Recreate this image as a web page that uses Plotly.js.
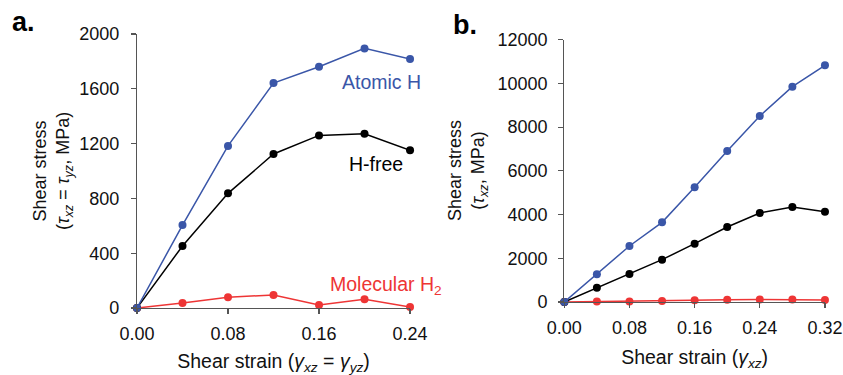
<!DOCTYPE html>
<html>
<head>
<meta charset="utf-8">
<script src="https://cdn.plot.ly/plotly-3.0.1.min.js"></script>
<style>html,body{margin:0;padding:0;background:#fff;}#chart{width:843px;height:375px;}</style>
</head>
<body>
<div id="chart"></div>
<script>
// Panel a data
var strainA = [0, 0.04, 0.08, 0.12, 0.16, 0.20, 0.24];
var atomicA = [0, 605, 1183, 1642, 1761, 1895, 1817];
var hfreeA = [0, 453, 837, 1124, 1260, 1272, 1151];
var molecA = [0, 36, 78, 95, 22, 63, 8];
var ticksXA = [0, 0.08, 0.16, 0.24];
var tickTextXA = ['0.00', '0.08', '0.16', '0.24'];
var ticksYA = [0, 400, 800, 1200, 1600, 2000];
// Panel b data
var strainB = [0, 0.04, 0.08, 0.12, 0.16, 0.20, 0.24, 0.28, 0.32];
var atomicB = [0, 1267, 2562, 3645, 5246, 6908, 8509, 9851, 10826];
var hfreeB = [0, 656, 1281, 1936, 2669, 3431, 4071, 4346, 4132];
var molecB = [0, 25, 25, 50, 85, 100, 115, 115, 95];
var ticksXB = [0, 0.08, 0.16, 0.24, 0.32];
var tickTextXB = ['0.00', '0.08', '0.16', '0.24', '0.32'];
var ticksYB = [0, 2000, 4000, 6000, 8000, 10000, 12000];
var tickTextYB = ['0', '2000', '4000', '6000', '8000', '10000', '12000'];

var blue = '#3a56a8', red = '#ee3535', black = '#000000';
var font = 'Liberation Sans, Arial, sans-serif';

function tr(x, y, c, xa, ya) {
  return {x: x, y: y, xaxis: xa, yaxis: ya, type: 'scatter', mode: 'lines+markers',
    line: {color: c, width: 1.5}, marker: {color: c, size: 8}, cliponaxis: false, showlegend: false};
}
var data = [
  tr(strainA, molecA, red, 'x', 'y'),
  tr(strainA, hfreeA, black, 'x', 'y'),
  tr(strainA, atomicA, blue, 'x', 'y'),
  tr(strainB, molecB, red, 'x2', 'y2'),
  tr(strainB, hfreeB, black, 'x2', 'y2'),
  tr(strainB, atomicB, blue, 'x2', 'y2')
];

var axBase = {showgrid: false, zeroline: false, showline: true, linecolor: '#555', linewidth: 1.2,
  ticks: 'outside', ticklen: 5, tickcolor: '#555', tickwidth: 1.2,
  tickfont: {family: font, size: 18, color: '#111'}};
function ax(o) { return Object.assign({}, axBase, o); }

var layout = {
  width: 843, height: 375, margin: {l: 0, r: 0, t: 0, b: 0},
  paper_bgcolor: '#fff', plot_bgcolor: '#fff', font: {family: font, color: '#111'},
  xaxis: ax({domain: [0.1625, 0.4864], range: [0, 0.24], tickvals: ticksXA,
    ticktext: tickTextXA, anchor: 'y', ticklabelstandoff: 4,
    title: {text: 'Shear strain (<i>γ</i><sub><i>xz</i></sub> = <i>γ</i><sub><i>yz</i></sub>)', font: {family: font, size: 19.5}, standoff: 13}}),
  yaxis: ax({domain: [0.1787, 0.9093], range: [0, 2000], tickvals: ticksYA, anchor: 'x',
    ticklabelstandoff: 8}),
  xaxis2: ax({domain: [0.6694, 0.9786], range: [0, 0.32], tickvals: ticksXB,
    ticktext: tickTextXB, anchor: 'y2', ticklabelstandoff: 4,
    title: {text: 'Shear strain (<i>γ</i><sub><i>xz</i></sub>)', font: {family: font, size: 19.5}, standoff: 13}}),
  yaxis2: ax({domain: [0.1947, 0.8941], range: [0, 12000], tickvals: ticksYB, ticktext: tickTextYB, anchor: 'x2',
    ticklabelstandoff: 7}),
  annotations: [
    {xref: 'paper', yref: 'paper', x: 53 / 843, y: 1 - 171 / 375, textangle: -90, xanchor: 'center', yanchor: 'middle',
      text: 'Shear stress<br>(<i>τ</i><sub><i>xz</i></sub> = <i>τ</i><sub><i>yz</i></sub>, MPa)', showarrow: false, font: {family: font, size: 18, color: '#111'}},
    {xref: 'paper', yref: 'paper', x: 468 / 843, y: 1 - 171 / 375, textangle: -90, xanchor: 'center', yanchor: 'middle',
      text: 'Shear stress<br>(<i>τ</i><sub><i>xz</i></sub>, MPa)', showarrow: false, font: {family: font, size: 18, color: '#111'}},
    {xref: 'x', yref: 'y', x: 0.2151, y: 1652, text: 'Atomic H', showarrow: false, font: {family: font, size: 19.5, color: blue}},
    {xref: 'x', yref: 'y', x: 0.2101, y: 1051, text: 'H-free', showarrow: false, font: {family: font, size: 19.5, color: black}},
    {xref: 'x', yref: 'y', x: 0.2185, y: 161, text: 'Molecular H<sub>2</sub>', showarrow: false, font: {family: font, size: 19.5, color: red}},
    {xref: 'paper', yref: 'paper', x: 10 / 843, y: 1 - 22 / 375, xanchor: 'left', yanchor: 'middle', text: '<b>a.</b>', showarrow: false, font: {family: font, size: 27, color: '#000'}},
    {xref: 'paper', yref: 'paper', x: 451 / 843, y: 1 - 25 / 375, xanchor: 'left', yanchor: 'middle', text: '<b>b.</b>', showarrow: false, font: {family: font, size: 27, color: '#000'}}
  ]
};

Plotly.newPlot('chart', data, layout, {displayModeBar: false, staticPlot: true});
</script>
</body>
</html>
